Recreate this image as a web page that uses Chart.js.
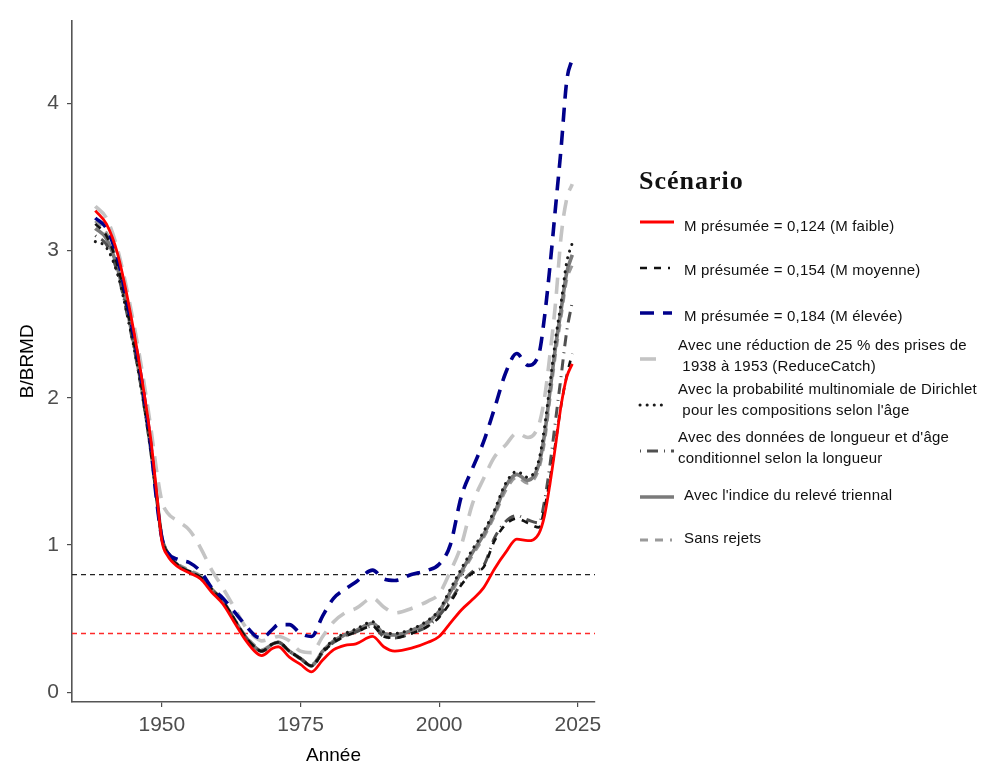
<!DOCTYPE html>
<html>
<head>
<meta charset="utf-8">
<script src="https://cdn.jsdelivr.net/npm/chart.js@4.4.1/dist/chart.umd.min.js"></script>
<style>
  body { margin: 0; background: #fff; }
  #wrap { position: relative; width: 984px; height: 770px; }
  #legend { position: absolute; left: 0; top: 0; font-family: "Liberation Sans", Arial, sans-serif; }
  #legend .title { position: absolute; left: 639px; top: 166px; font: bold 26px "Liberation Serif", "Times New Roman", serif; letter-spacing: 1px; color: #111; }
  #legend .txt { position: absolute; font-size: 15px; line-height: 21px; letter-spacing: 0.2px; color: #111; white-space: pre; }
  #legend svg { position: absolute; left: 638px; overflow: visible; }
</style>
</head>
<body>
<div id="wrap">
  <canvas id="chart" width="984" height="770"></canvas>
  <div id="legend"></div>
</div>
<script>
const years = [1938, 1940, 1942, 1944, 1946, 1948, 1949, 1950, 1951,
  1953, 1955, 1957, 1959, 1961, 1963, 1965, 1967, 1968,
  1970, 1971, 1973, 1975, 1977, 1979, 1981, 1983, 1985,
  1988, 1990, 1992, 1995, 1998, 2000, 2002, 2004, 2006,
  2008, 2010, 2012, 2014, 2016, 2018, 2019, 2020, 2021,
  2022, 2023, 2024];

const mLow = [3.27, 3.18, 2.98, 2.64, 2.22, 1.72, 1.38, 1.03, 0.93,
  0.85, 0.81, 0.77, 0.68, 0.60, 0.48, 0.36, 0.27, 0.25,
  0.30, 0.31, 0.24, 0.19, 0.14, 0.22, 0.29, 0.32, 0.33,
  0.38, 0.31, 0.28, 0.30, 0.34, 0.38, 0.47, 0.56, 0.63,
  0.71, 0.84, 0.95, 1.04, 1.03, 1.08, 1.20, 1.42, 1.68,
  1.95, 2.14, 2.23];

const mMid = [3.18, 3.10, 2.90, 2.56, 2.16, 1.66, 1.35, 1.05, 0.95,
  0.86, 0.82, 0.78, 0.70, 0.62, 0.50, 0.38, 0.30, 0.28,
  0.33, 0.34, 0.28, 0.23, 0.18, 0.27, 0.34, 0.38, 0.41,
  0.45, 0.38, 0.37, 0.40, 0.45, 0.51, 0.61, 0.73, 0.81,
  0.85, 1.03, 1.14, 1.18, 1.15, 1.12, 1.25, 1.45, 1.70,
  1.95, 2.15, 2.30];

const mHigh = [3.22, 3.15, 2.95, 2.60, 2.20, 1.68, 1.32, 1.05, 0.95,
  0.90, 0.88, 0.82, 0.71, 0.64, 0.55, 0.46, 0.38, 0.37,
  0.43, 0.46, 0.46, 0.40, 0.38, 0.52, 0.64, 0.70, 0.75,
  0.83, 0.77, 0.76, 0.80, 0.83, 0.87, 1.00, 1.33, 1.52,
  1.70, 1.93, 2.17, 2.30, 2.22, 2.30, 2.55, 2.90, 3.30,
  3.70, 4.15, 4.30];

const reduceCatch = [3.30, 3.22, 3.01, 2.68, 2.28, 1.80, 1.52, 1.30, 1.22,
  1.16, 1.10, 0.98, 0.83, 0.71, 0.58, 0.45, 0.37, 0.35,
  0.37, 0.38, 0.35, 0.28, 0.27, 0.38, 0.48, 0.54, 0.57,
  0.64, 0.58, 0.54, 0.57, 0.62, 0.67, 0.82, 1.00, 1.28,
  1.45, 1.60, 1.68, 1.76, 1.73, 1.82, 2.00, 2.30, 2.65,
  3.10, 3.35, 3.45];

const dirichlet = [3.06, 3.02, 2.84, 2.52, 2.13, 1.64, 1.34, 1.05, 0.95,
  0.86, 0.82, 0.78, 0.70, 0.62, 0.50, 0.38, 0.30, 0.28,
  0.33, 0.34, 0.28, 0.23, 0.18, 0.28, 0.36, 0.40, 0.43,
  0.48, 0.41, 0.40, 0.43, 0.49, 0.56, 0.70, 0.84, 0.97,
  1.09, 1.24, 1.42, 1.50, 1.46, 1.58, 1.80, 2.10, 2.40,
  2.65, 2.92, 3.05];

const condLength = [3.10, 3.04, 2.85, 2.52, 2.13, 1.64, 1.34, 1.05, 0.95,
  0.86, 0.82, 0.78, 0.70, 0.62, 0.50, 0.38, 0.30, 0.28,
  0.33, 0.34, 0.28, 0.23, 0.18, 0.27, 0.34, 0.38, 0.41,
  0.45, 0.38, 0.37, 0.40, 0.45, 0.52, 0.62, 0.74, 0.82,
  0.86, 1.05, 1.16, 1.20, 1.17, 1.15, 1.30, 1.55, 1.85,
  2.15, 2.45, 2.65];

const triennial = [3.15, 3.08, 2.88, 2.55, 2.15, 1.65, 1.35, 1.05, 0.95,
  0.86, 0.82, 0.78, 0.70, 0.62, 0.50, 0.38, 0.30, 0.28,
  0.33, 0.34, 0.28, 0.23, 0.18, 0.28, 0.35, 0.39, 0.42,
  0.47, 0.40, 0.39, 0.42, 0.48, 0.55, 0.68, 0.82, 0.95,
  1.07, 1.22, 1.40, 1.48, 1.44, 1.55, 1.75, 2.05, 2.35,
  2.60, 2.85, 2.97];

const noDiscards = [3.20, 3.12, 2.92, 2.58, 2.18, 1.67, 1.36, 1.06, 0.96,
  0.87, 0.83, 0.79, 0.70, 0.62, 0.50, 0.39, 0.31, 0.29,
  0.33, 0.34, 0.28, 0.23, 0.19, 0.28, 0.35, 0.39, 0.42,
  0.47, 0.40, 0.39, 0.42, 0.47, 0.53, 0.66, 0.80, 0.93,
  1.05, 1.20, 1.37, 1.46, 1.42, 1.52, 1.70, 2.00, 2.30,
  2.55, 2.80, 2.90];

const refLevels = [0.8, 0.4];
const xTicks = [1950, 1975, 2000, 2025];
const yTicks = [0, 1, 2, 3, 4];

const labels = [
  "M présumée = 0,124 (M faible)",
  "M présumée = 0,154 (M moyenne)",
  "M présumée = 0,184 (M élevée)",
  "Avec une réduction de 25 % des prises de\n 1938 à 1953 (ReduceCatch)",
  "Avec la probabilité multinomiale de Dirichlet\n pour les compositions selon l'âge",
  "Avec des données de longueur et d'âge\nconditionnel selon la longueur",
  "Avec l'indice du relevé triennal",
  "Sans rejets"
];

const X_MIN = 1933.8, X_MAX = 2028.1;
const FONT = '"Liberation Sans", Arial, sans-serif';

const series = [mLow, mMid, mHigh, reduceCatch, dirichlet, condLength, triennial, noDiscards];
const styles = [
  { color: "#ff0000", width: 2.8, dash: [], cap: "butt", order: 1 },
  { color: "#111111", width: 2.6, dash: [7, 7], cap: "butt", order: 3 },
  { color: "#00008b", width: 3.6, dash: [14, 9], cap: "butt", order: 2 },
  { color: "#c4c4c4", width: 3.6, dash: [16, 10], cap: "butt", order: 8 },
  { color: "#1a1a1a", width: 3, dash: [0.1, 7], cap: "round", order: 4 },
  { color: "#505050", width: 3, dash: [1, 6, 11, 6], cap: "butt", order: 5 },
  { color: "#7a7a7a", width: 3.6, dash: [], cap: "butt", order: 6 },
  { color: "#9a9a9a", width: 3, dash: [8, 7], cap: "butt", order: 7 }
];
const refColors = ["#222222", "#ff2a2a"];

const datasets = series.map((vals, i) => ({
  label: labels[i],
  data: vals.map((v, j) => ({ x: years[j], y: v })),
  borderColor: styles[i].color,
  borderWidth: styles[i].width,
  borderDash: styles[i].dash,
  borderCapStyle: styles[i].cap,
  cubicInterpolationMode: "monotone",
  pointRadius: 0,
  fill: false,
  order: styles[i].order
}));

refLevels.forEach((lvl, i) => {
  datasets.push({
    label: "ref" + lvl,
    data: [{ x: X_MIN, y: lvl }, { x: X_MAX, y: lvl }],
    borderColor: refColors[i],
    borderWidth: 1.3,
    borderDash: [5, 4],
    pointRadius: 0,
    order: 9
  });
});

new Chart(document.getElementById("chart"), {
  type: "line",
  data: { datasets },
  options: {
    responsive: false,
    animation: false,
    layout: { padding: { left: 0, top: 15, right: 389, bottom: 0 } },
    plugins: { legend: { display: false }, tooltip: { enabled: false } },
    scales: {
      x: {
        type: "linear",
        min: X_MIN,
        max: X_MAX,
        afterBuildTicks: s => { s.ticks = xTicks.map(v => ({ value: v })); },
        afterFit: s => { s.height = 68; },
        ticks: {
          color: "#4d4d4d", font: { family: FONT, size: 21 }, padding: 6, maxRotation: 0, autoSkip: false,
          callback: v => String(v)
        },
        grid: { drawOnChartArea: false, drawTicks: true, tickLength: 5, color: "#4d4d4d", lineWidth: 1.2 },
        border: { display: true, color: "#555555", width: 1.6 },
        title: { display: true, text: "Année", color: "#000", font: { family: FONT, size: 19 }, padding: { top: 0, bottom: 3 } }
      },
      y: {
        min: -0.065,
        max: 4.56,
        afterBuildTicks: s => { s.ticks = yTicks.map(v => ({ value: v })); },
        afterFit: s => { s.width = 72; },
        ticks: { color: "#4d4d4d", font: { family: FONT, size: 21 }, padding: 8, callback: v => String(v) },
        grid: { drawOnChartArea: false, drawTicks: true, tickLength: 5, color: "#4d4d4d", lineWidth: 1.2 },
        border: { display: true, color: "#555555", width: 1.6 },
        title: { display: true, text: "B/BRMD", color: "#000", font: { family: FONT, size: 19 }, padding: { top: 16, bottom: 0 } }
      }
    }
  }
});

// legend built in HTML, to the right of the panel
const legend = document.getElementById("legend");
const title = document.createElement("div");
title.className = "title";
title.textContent = "Scénario";
legend.appendChild(title);

const sampleY = [222, 268, 313, 359, 405, 451, 497, 540];
const textY = [225, 269, 315, 355, 399, 447, 494, 537];
const sampleLen = [34, 30, 32, 20, 22, 34, 34, 32];
const svgNS = "http://www.w3.org/2000/svg";
labels.forEach((lab, i) => {
  const st = styles[i];
  const svg = document.createElementNS(svgNS, "svg");
  svg.setAttribute("width", "40");
  svg.setAttribute("height", "10");
  svg.style.top = (sampleY[i] - 5) + "px";
  const ln = document.createElementNS(svgNS, "line");
  ln.setAttribute("x1", "2");
  ln.setAttribute("x2", String(2 + sampleLen[i]));
  ln.setAttribute("y1", "5");
  ln.setAttribute("y2", "5");
  ln.setAttribute("stroke", st.color);
  ln.setAttribute("stroke-width", String(st.width));
  ln.setAttribute("stroke-linecap", st.cap);
  if (st.dash.length) ln.setAttribute("stroke-dasharray", st.dash.join(" "));
  svg.appendChild(ln);
  legend.appendChild(svg);

  const t = document.createElement("div");
  t.className = "txt";
  t.textContent = lab;
  const nLines = lab.split("\n").length;
  t.style.left = (nLines > 1 ? 678 : 684) + "px";
  t.style.top = (textY[i] - nLines * 21 / 2) + "px";
  legend.appendChild(t);
});
</script>
</body>
</html>
